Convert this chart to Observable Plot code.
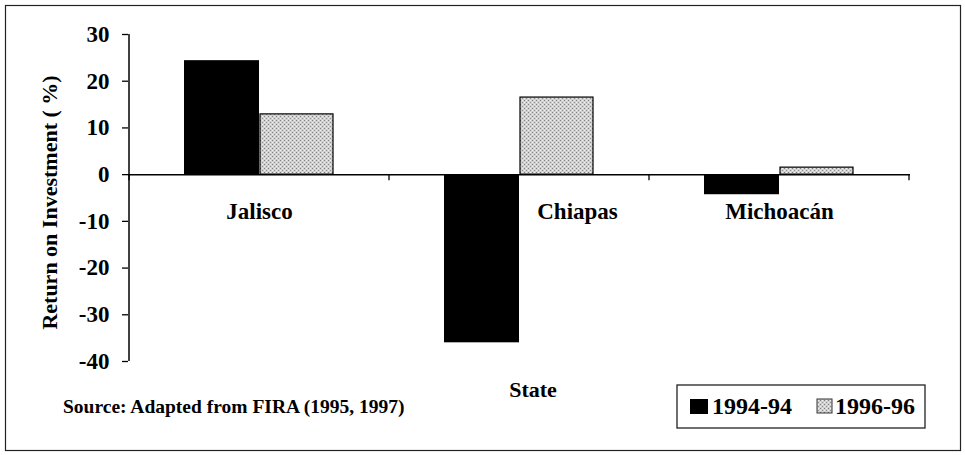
<!DOCTYPE html>
<html>
<head>
<meta charset="utf-8">
<script src="https://cdn.jsdelivr.net/npm/d3@7"></script>
<script src="https://cdn.jsdelivr.net/npm/@observablehq/plot@0.6"></script>
<style>
  html, body { margin: 0; padding: 0; background: #fff; }
  svg { display: block; }
</style>
</head>
<body>
<div id="chart"></div>
<script>
const states = ["Jalisco", "Chiapas", "Michoacán"];
const years = ["1994-94", "1996-96"];
const roi1994 = [24.4, -36.0, -4.3];
const roi1996 = [12.9, 16.5, 1.5];
const yTicks = [-40, -30, -20, -10, 0, 10, 20, 30];
const yTitle = "Return on Investment ( %)";
const xTitle = "State";
const sourceText = "Source: Adapted from FIRA (1995, 1997)";

const rows = states.flatMap((s, i) => [
  {state: s, year: years[0], value: roi1994[i]},
  {state: s, year: years[1], value: roi1996[i]}
]);

const font = "'Liberation Serif', 'Times New Roman', serif";

const chart = Plot.plot({
  width: 965,
  height: 455,
  marginLeft: 128,
  marginRight: 55,
  marginTop: 34,
  marginBottom: 94,
  style: {fontFamily: font, fontWeight: "bold", fontSize: "20px", color: "#000", background: "#fff"},
  x: {domain: states, padding: 0, axis: null},
  y: {domain: [-40, 30], axis: null},
  marks: [
    Plot.barY(rows.filter(d => d.year === years[0]), {x: "state", y: "value", fill: "#000", insetLeft: 55, insetRight: 130}),
    Plot.barY(rows.filter(d => d.year === years[1]), {x: "state", y: "value", fill: "url(#stipple)", stroke: "#000", strokeWidth: 1.2, insetLeft: 131, insetRight: 56}),
    Plot.ruleY([0], {stroke: "#000", strokeWidth: 1.5}),
    Plot.axisY(yTicks, {anchor: "left", tickSize: 6, tickPadding: 13, fontSize: 23, fontWeight: "bold", label: null, stroke: "#000", strokeWidth: 1.3, tickFormat: d => String(d)}),
    Plot.text(states.filter(s => s !== "Chiapas"), {x: d => d, y: 0, dy: 37, fontSize: 23, fontWeight: "bold", fill: "#000"}),
    Plot.text(states.filter(s => s === "Chiapas"), {x: d => d, y: 0, dy: 37, dx: 58, fontSize: 23, fontWeight: "bold", fill: "#000"})
  ]
});

const svg = d3.select(chart);
const xs = chart.scale("x");
const ys = chart.scale("y");
const bw = xs.bandwidth;

// stipple pattern for the light bars
const defs = svg.insert("defs", ":first-child");
const pat = defs.append("pattern").attr("id", "stipple").attr("patternUnits", "userSpaceOnUse")
  .attr("width", 4).attr("height", 4);
pat.append("rect").attr("width", 4).attr("height", 4).attr("fill", "#d0d0d0");
pat.append("rect").attr("x", 0).attr("y", 0).attr("width", 1).attr("height", 1).attr("fill", "#7f7f7f");
pat.append("rect").attr("x", 2).attr("y", 2).attr("width", 1).attr("height", 1).attr("fill", "#909090");
pat.append("rect").attr("x", 2).attr("y", 0).attr("width", 1).attr("height", 1).attr("fill", "#f0f0f0");
pat.append("rect").attr("x", 0).attr("y", 2).attr("width", 1).attr("height", 1).attr("fill", "#f0f0f0");

const g = svg.append("g").attr("fill", "#000").attr("text-anchor", "start")
  .style("font-family", font).style("font-weight", "bold");

// y axis line
const xLeft = xs.apply(states[0]);
const xRight = xs.apply(states[states.length - 1]) + bw;
g.append("line").attr("x1", xLeft).attr("x2", xLeft).attr("y1", ys.apply(30)).attr("y2", ys.apply(-40))
  .attr("stroke", "#000").attr("stroke-width", 1.5);

// category boundary ticks on the zero line
const y0 = ys.apply(0);
const bounds = states.map(s => xs.apply(s)).concat([xRight]);
bounds.forEach(bx => {
  g.append("line").attr("x1", bx).attr("x2", bx).attr("y1", y0).attr("y2", y0 + 6)
    .attr("stroke", "#000").attr("stroke-width", 1.3);
});

// y title
g.append("text").attr("transform", `translate(57, ${(ys.apply(30) + ys.apply(-40)) / 2 + 5}) rotate(-90)`)
  .attr("text-anchor", "middle").style("font-size", "22px").text(yTitle);

// x title
g.append("text").attr("x", 533).attr("y", 397)
  .attr("text-anchor", "middle").style("font-size", "22px").text(xTitle);

// source
g.append("text").attr("x", 63).attr("y", 413).attr("text-anchor", "start")
  .style("font-size", "19.5px").text(sourceText);

// legend
const lg = svg.append("g").attr("text-anchor", "start").style("font-family", font).style("font-weight", "bold");
lg.append("rect").attr("x", 677).attr("y", 385).attr("width", 248).attr("height", 43)
  .attr("fill", "#fff").attr("stroke", "#222").attr("stroke-width", 1.3);
lg.append("rect").attr("x", 690).attr("y", 399).attr("width", 18).attr("height", 15).attr("fill", "#000");
lg.append("text").attr("x", 712).attr("y", 414).style("font-size", "24px").attr("fill", "#000").text(years[0]);
lg.append("rect").attr("x", 817).attr("y", 399).attr("width", 15).attr("height", 14)
  .attr("fill", "url(#stipple)").attr("stroke", "#333").attr("stroke-width", 1);
lg.append("text").attr("x", 835).attr("y", 414).style("font-size", "24px").attr("fill", "#000").text(years[1]);

// outer border
svg.append("rect").attr("x", 5.5).attr("y", 5.5).attr("width", 955).attr("height", 445)
  .attr("fill", "none").attr("stroke", "#222").attr("stroke-width", 1.2);

document.getElementById("chart").appendChild(chart);
</script>
</body>
</html>
